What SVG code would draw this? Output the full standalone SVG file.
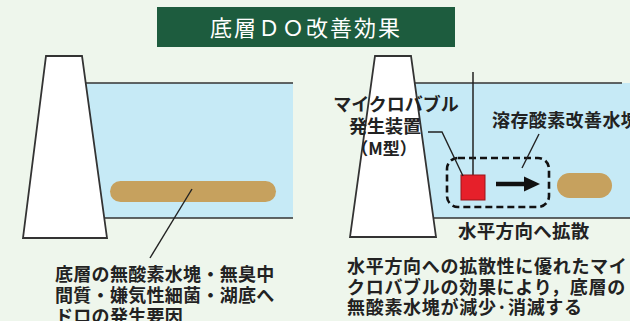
<svg xmlns="http://www.w3.org/2000/svg" width="630" height="321" viewBox="0 0 630 321">
  <style>
    .bg { fill: #eef6ec; }
    .water { fill: #c6eaf6; }
    .shore { stroke: #333; stroke-width: 1.6; fill: none; }
    .dam { fill: #ffffff; stroke: #333; stroke-width: 1.8; stroke-linejoin: miter; }
    .sludge { fill: #c6a15e; }
    .lead { stroke: #222; stroke-width: 1.4; fill: none; }
    .txt { font-family: "Noto Sans CJK JP", "Noto Sans", sans-serif; font-weight: bold; fill: #222; }
    .title { font-family: "Noto Sans CJK JP", "Noto Sans", sans-serif; font-size: 22px; fill: #ffffff; letter-spacing: 2px; }
  </style>

  <rect class="bg" x="0" y="0" width="630" height="321"/>

  <!-- heading -->
  <g id="title">
    <rect x="157" y="7" width="298" height="40" fill="#1d5c3e"/>
    <text class="title" x="306" y="36" text-anchor="middle">底層ＤＯ改善効果</text>
  </g>

  <!-- left: present state -->
  <g id="left-lake">
    <rect class="water" x="80" y="83" width="213" height="135"/>
    <line class="shore" x1="84" y1="83" x2="293" y2="83"/>
    <line class="shore" x1="102" y1="218" x2="293" y2="218"/>
    <polygon class="dam" points="46,56 82,56 107,238 23,238"/>
  </g>
  <g id="left-anoxic-mass">
    <rect class="sludge" x="110" y="181" width="166" height="21" rx="10.5"/>
  </g>

  <!-- right: with micro-bubble generator -->
  <g id="right-lake">
    <rect class="water" x="410" y="83" width="220" height="135"/>
    <line class="shore" x1="413" y1="83" x2="622" y2="83"/>
    <line class="shore" x1="431" y1="218" x2="630" y2="218"/>
    <polygon class="dam" points="375,56 411,56 436,237 350,237"/>
  </g>
  <g id="right-anoxic-mass">
    <rect class="sludge" x="557" y="173" width="55" height="25" rx="12.5"/>
  </g>
  <g id="oxygenated-zone">
    <rect x="447" y="158" width="102" height="49" rx="11" fill="none" stroke="#111" stroke-width="2.6" stroke-dasharray="7 4"/>
  </g>
  <g id="generator">
    <line x1="473" y1="72" x2="473" y2="175" stroke="#222" stroke-width="1.5"/>
    <rect x="461" y="175" width="24" height="25" fill="#e6202a" stroke="#9a1418" stroke-width="1"/>
  </g>

  <!-- connectors -->
  <g id="connectors">
    <line x1="496" y1="184" x2="527" y2="184" stroke="#111" stroke-width="4.5"/>
    <polygon points="524,176.5 540,184 524,191.5" fill="#111"/>
    <line class="lead" x1="192" y1="189" x2="150" y2="258"/>
    <polyline class="lead" points="428,132 442,132 463,176"/>
    <line class="lead" x1="539" y1="134" x2="522" y2="168"/>
  </g>

  <!-- labels -->
  <g id="labels">
    <text class="txt" font-size="18" x="396" y="111" text-anchor="middle">マイクロバブル</text>
    <text class="txt" font-size="18" x="385" y="133" text-anchor="middle">発生装置</text>
    <text class="txt" font-size="17" x="384" y="155" text-anchor="middle">（M型）</text>
    <text class="txt" font-size="18" x="492" y="127" letter-spacing="0.4">溶存酸素改善水塊</text>
    <text class="txt" font-size="18.5" x="458" y="238" letter-spacing="0.3">水平方向へ拡散</text>
  </g>

  <g id="left-caption">
    <text class="txt" font-size="18" letter-spacing="0.3">
      <tspan x="55" y="281">底層の無酸素水塊・無臭中</tspan>
      <tspan x="55" y="302">間質・嫌気性細菌・湖底へ</tspan>
      <tspan x="55" y="323">ドロの発生要因</tspan>
    </text>
  </g>

  <g id="right-caption">
    <text class="txt" font-size="18" letter-spacing="0.7">
      <tspan x="347" y="273">水平方向への拡散性に優れたマイ</tspan>
      <tspan x="347" y="294">クロバブルの効果により，底層の</tspan>
      <tspan x="347" y="314">無酸素水塊が減少·消滅する</tspan>
    </text>
  </g>
</svg>
